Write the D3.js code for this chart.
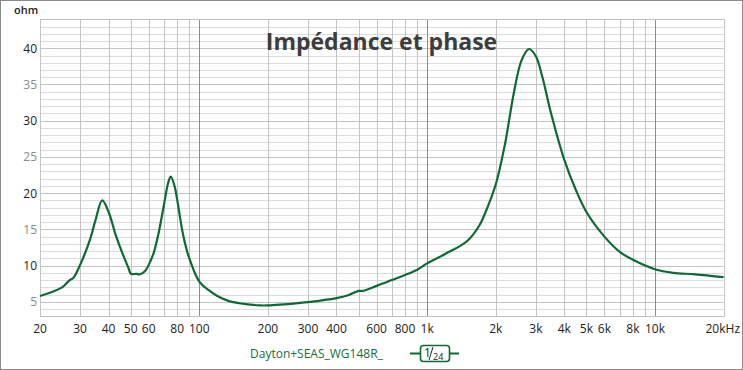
<!DOCTYPE html>
<html>
<head>
<meta charset="utf-8">
<script src="https://cdnjs.cloudflare.com/ajax/libs/d3/7.8.5/d3.min.js"></script>
<style>
  body { margin: 0; background: #fff; }
  svg text { font-family: "Open Sans", "Noto Sans", sans-serif; }
</style>
</head>
<body>
<div id="chart"></div>
<script>
// Impedance curve (Hz, ohm)
const freqs = [20, 25, 27, 28, 30, 33, 35, 37.5, 40, 43, 46, 49, 50, 53, 55, 58, 60, 63, 66, 70, 73, 75, 78, 80, 85, 90, 100,
  110, 120, 135, 150, 185, 200, 226, 300, 400, 450, 500, 520, 600, 700, 800, 900, 1000,
  1200, 1500, 1700, 1800, 2000, 2200, 2400, 2600, 2800, 3000, 3200, 3500, 4000, 4500, 5000,
  6000, 7000, 8000, 10000, 12000, 15000, 20000];
const impedance = [5.8, 7.0, 8.0, 8.3, 10.1, 13.4, 16.2, 19.0, 17.4, 14.2, 11.7, 9.6, 8.9, 8.85, 8.8, 9.3, 10.1, 11.7, 14.2, 18.4, 21.4, 22.3, 20.9, 19.1, 14.2, 11.2, 7.8,
  6.6, 5.8, 5.1, 4.8, 4.5, 4.5, 4.6, 4.95, 5.5, 5.9, 6.5, 6.5, 7.2, 8.0, 8.7, 9.4, 10.3,
  11.6, 13.4, 15.6, 17.3, 21.2, 26.9, 33.8, 38.4, 39.9, 38.9, 36.1, 31.0, 24.6, 20.4, 17.4,
  14.0, 11.9, 10.8, 9.5, 9.0, 8.8, 8.4];

const xTicks = [20, 30, 40, 50, 60, 80, 100, 200, 300, 400, 600, 800, 1000, 2000, 3000, 4000, 5000, 6000, 8000, 10000, 20000];
const xTickLabels = ['20', '30', '40', '50', '60', '80', '100', '200', '300', '400', '600', '800', '1k', '2k', '3k', '4k', '5k', '6k', '8k', '10k', '20kHz'];
const yTicks = [5, 10, 15, 20, 25, 30, 35, 40];

const seriesName = 'Dayton+SEAS_WG148R_';
const lineColor = '#0b6a35';

const W = 743, H = 370;
const plot = { left: 40, right: 723.6, top: 19.3, bottom: 316.3 };

const svg = d3.select('#chart').append('svg')
  .attr('width', W)
  .attr('height', H);

// outer frame
svg.append('rect')
  .attr('x', 0.5).attr('y', 0.5)
  .attr('width', W - 1).attr('height', H - 1)
  .attr('fill', '#fff')
  .attr('stroke', '#8a8a8a');

const x = d3.scaleLog()
  .domain([20, 20000])
  .range([plot.left, plot.right]);

const y = d3.scaleLinear()
  .domain([3, 44])
  .range([plot.bottom, plot.top]);

// grid: horizontal every ohm, darker every 5
const grid = svg.append('g');
d3.range(3, 45).forEach(v => {
  grid.append('line')
    .attr('x1', plot.left).attr('x2', plot.right)
    .attr('y1', Math.round(y(v)) + 0.5).attr('y2', Math.round(y(v)) + 0.5)
    .attr('stroke', v % 5 === 0 ? '#c4c4c4' : '#dcdcdc');
});

// vertical grid: every 1-2-..-9 per decade, darker at decades
const vLines = [];
[10, 100, 1000, 10000].forEach(dec => {
  for (let m = 1; m <= 9; m++) {
    const f = dec * m;
    if (f >= 20 && f <= 20000) vLines.push(f);
  }
});
vLines.push(20000);
vLines.forEach(f => {
  const major = [100, 1000, 10000].includes(f);
  grid.append('line')
    .attr('x1', Math.round(x(f)) + 0.5).attr('x2', Math.round(x(f)) + 0.5)
    .attr('y1', plot.top).attr('y2', plot.bottom)
    .attr('stroke', major ? '#8c8c8c' : '#c4c4c4');
});

// plot frame
svg.append('rect')
  .attr('x', plot.left + 0.5).attr('y', Math.round(plot.top) + 0.5)
  .attr('width', Math.round(plot.right - plot.left))
  .attr('height', Math.round(plot.bottom - plot.top))
  .attr('fill', 'none')
  .attr('stroke', '#c4c4c4');

// title
svg.append('text')
  .attr('x', 381.5)
  .attr('y', 50)
  .attr('text-anchor', 'middle')
  .attr('font-size', '23px')
  .attr('font-weight', 'bold')
  .attr('fill', '#3d3d3d')
  .text('Impédance et phase');

// axis labels
svg.append('text')
  .attr('x', 14).attr('y', 14)
  .attr('font-size', '11px')
  .attr('font-weight', 600)
  .attr('fill', '#222')
  .text('ohm');

svg.append('g').selectAll('text')
  .data(yTicks)
  .enter().append('text')
  .attr('x', 37)
  .attr('y', d => y(d) + 4.5)
  .attr('text-anchor', 'end')
  .attr('font-size', '12px')
  .attr('fill', d => d % 10 === 0 ? '#222' : '#8a8a8a')
  .text(d => d);

svg.append('g').selectAll('text')
  .data(xTicks)
  .enter().append('text')
  .attr('x', (d, i) => i === xTicks.length - 1 ? 740 : x(d))
  .attr('y', 333)
  .attr('text-anchor', (d, i) => i === xTicks.length - 1 ? 'end' : 'middle')
  .attr('font-size', '12px')
  .attr('fill', '#222')
  .text((d, i) => xTickLabels[i]);

// impedance curve
const data = freqs.map((f, i) => ({ f, z: impedance[i] }));
const line = d3.line()
  .x(d => x(d.f))
  .y(d => y(d.z))
  .curve(d3.curveCatmullRom.alpha(0.5));

svg.append('path')
  .datum(data)
  .attr('fill', 'none')
  .attr('stroke', lineColor)
  .attr('stroke-width', 2.2)
  .attr('stroke-linejoin', 'round')
  .attr('d', line);

// legend
const legend = svg.append('g');
legend.append('text')
  .attr('x', 250).attr('y', 358)
  .attr('font-size', '12px')
  .attr('fill', '#137040')
  .text(seriesName);
legend.append('line')
  .attr('x1', 410).attr('x2', 459)
  .attr('y1', 353.5).attr('y2', 353.5)
  .attr('stroke', lineColor)
  .attr('stroke-width', 2);
legend.append('rect')
  .attr('x', 420.5).attr('y', 345.5)
  .attr('width', 29).attr('height', 16)
  .attr('rx', 3)
  .attr('fill', '#fff')
  .attr('stroke', lineColor)
  .attr('stroke-width', 1.6);
legend.append('text')
  .attr('x', 424).attr('y', 357)
  .attr('font-size', '12px')
  .attr('fill', '#222')
  .text('1');
legend.append('line')
  .attr('x1', 433).attr('x2', 429)
  .attr('y1', 347).attr('y2', 360)
  .attr('stroke', '#222')
  .attr('stroke-width', 1);
legend.append('text')
  .attr('x', 433).attr('y', 359.5)
  .attr('font-size', '9px')
  .attr('fill', '#222')
  .text('24');
</script>
</body>
</html>
